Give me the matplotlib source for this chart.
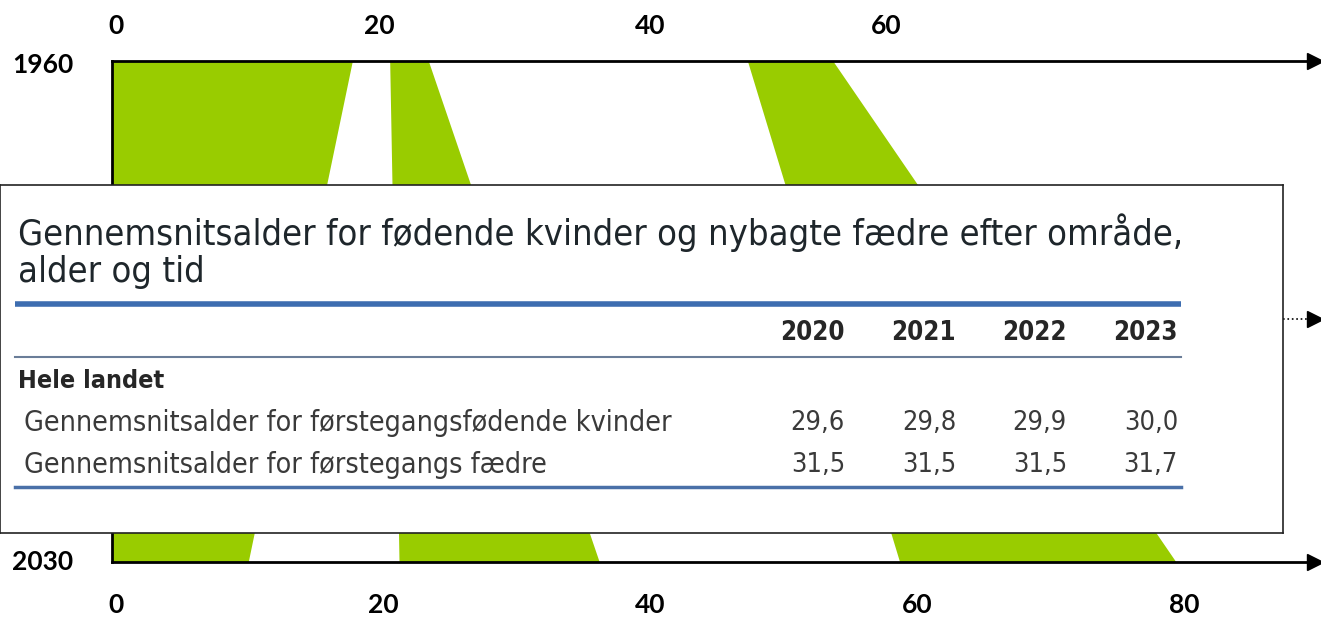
import matplotlib.pyplot as plt

# aldersbånd (alder ved år 1960 og 2030)
years = [1960, 2030]
children_hi = [18.0, 10.2]
parents_lo = [20.8, 21.5]
parents_hi = [23.7, 36.5]
grand_lo = [47.6, 59.0]
grand_hi = [54.0, 79.7]
mid_year = 1996
age_ticks = [0, 20, 40, 60, 80]
top_ticks = [0.3, 20, 40.3, 58]

# tabel
title = 'Gennemsnitsalder for fødende kvinder og nybagte fædre efter område,\nalder og tid'
tab_years = ['2020', '2021', '2022', '2023']
group = 'Hele landet'
row_labels = ['Gennemsnitsalder for førstegangsfødende kvinder',
              'Gennemsnitsalder for førstegangs fædre']
row_values = [['29,6', '29,8', '29,9', '30,0'],
              ['31,5', '31,5', '31,5', '31,7']]

green = '#99cc00'
W, H = 1321, 620
px_age = 13.35
px_year = 7.157

fig = plt.figure(figsize=(W / 100, H / 100), dpi=100)
ax = fig.add_axes([0, 0, 1, 1])
ax.set_xlim(-112 / px_age, (W - 112) / px_age)
ax.set_ylim(1960 + (H - 61) / px_year, 1960 - 61 / px_year)
ax.axis('off')

ax.fill_betweenx(years, [0, 0], children_hi, color=green, lw=0)
ax.fill_betweenx(years, parents_lo, parents_hi, color=green, lw=0)
ax.fill_betweenx(years, grand_lo, grand_hi, color=green, lw=0)

x_end = (1310 - 112) / px_age
x_tip = (1315 - 112) / px_age
for y in years:
    ax.plot([0, x_end], [y, y], color='black', lw=2)
    ax.plot([x_tip], [y], marker='>', color='black', ms=11)
ax.plot([0, 0], years, color='black', lw=2)

lab = dict(family='Lato', fontweight='bold', fontsize=19, color='black')
ax.annotate('1960', (0, years[0]), xytext=(-50, -3), textcoords='offset points',
            ha='center', va='center', **lab)
ax.annotate('2030', (0, years[1]), xytext=(-50, 0), textcoords='offset points',
            ha='center', va='center', **lab)
for t, v in zip(top_ticks, age_ticks):
    ax.annotate(str(v), (t, years[0]), xytext=(0, 25), textcoords='offset points',
                ha='center', va='center', **lab)
for v in age_ticks:
    ax.annotate(str(v), (v, years[1]), xytext=(3, -31), textcoords='offset points',
                ha='center', va='center', **lab)

# boks med tabel
bx0, by0, bx1, by1 = 0, 185, 1283, 533
ax.plot([(bx1 - 112) / px_age, x_end], [mid_year, mid_year], color='black', lw=1.2, ls=':')
ax.plot([x_tip], [mid_year], marker='>', color='black', ms=11)

tb = fig.add_axes([bx0 / W, 1 - by1 / H, (bx1 - bx0) / W, (by1 - by0) / H])
tb.set_xlim(0, bx1 - bx0)
tb.set_ylim(by1 - by0, 0)
tb.set_xticks([])
tb.set_yticks([])
for s in tb.spines.values():
    s.set_linewidth(1.2)
    s.set_color('#222222')

fam = ['DejaVu Sans']
cond = dict(family=fam, fontstretch='condensed')
tb.text(18, 66, title, fontsize=26, color='#1e262b', va='center', linespacing=1.1, **cond)
tb.plot([15, 1181], [119, 119], color='#3d6db0', lw=4, solid_capstyle='butt')
col_right = [1178 - 111 * (3 - i) for i in range(4)]
for x, yr in zip(col_right, tab_years):
    tb.text(x, 148, yr, ha='right', va='center', fontsize=18.5, fontweight='bold',
            color='#262626', **cond)
tb.plot([15, 1181], [172, 172], color='#6a7d98', lw=1.5)
tb.text(18, 196, group, va='center', fontsize=18, fontweight='bold', color='#262626', **cond)
for i, (name, vals) in enumerate(zip(row_labels, row_values)):
    y = 238 + 42 * i
    tb.text(24, y, name, va='center', fontsize=20.5, color='#3a3a3a', **cond)
    for x, v in zip(col_right, vals):
        tb.text(x, y, v, ha='right', va='center', fontsize=19.5, color='#3a3a3a', **cond)
tb.plot([15, 1181], [302, 302], color='#4a70a8', lw=2.5)

plt.savefig('out.png', dpi=100)
